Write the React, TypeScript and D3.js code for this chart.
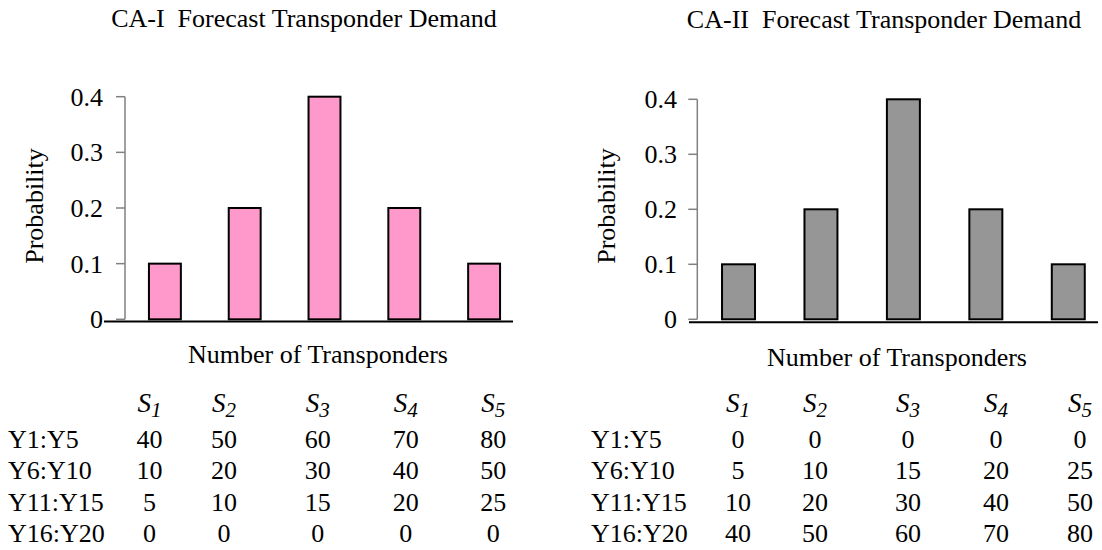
import React from 'react';
import * as d3 from 'd3';

// ---------- data ----------
const categories = ['S1', 'S2', 'S3', 'S4', 'S5'];
const subscripts = ['1', '2', '3', '4', '5'];
const probCAI = [0.1, 0.2, 0.4, 0.2, 0.1];
const probCAII = [0.1, 0.2, 0.4, 0.2, 0.1];
const yTicks = [0, 0.1, 0.2, 0.3, 0.4];
const yTickLabels = ['0', '0.1', '0.2', '0.3', '0.4'];
const periods = ['Y1:Y5', 'Y6:Y10', 'Y11:Y15', 'Y16:Y20'];
const demandCAI = [
  [40, 50, 60, 70, 80],
  [10, 20, 30, 40, 50],
  [5, 10, 15, 20, 25],
  [0, 0, 0, 0, 0],
];
const demandCAII = [
  [0, 0, 0, 0, 0],
  [5, 10, 15, 20, 25],
  [10, 20, 30, 40, 50],
  [40, 50, 60, 70, 80],
];
const titleCAI = 'CA-I  Forecast Transponder Demand';
const titleCAII = 'CA-II  Forecast Transponder Demand';
const yLabel = 'Probability';
const xLabel = 'Number of Transponders';

// ---------- layout ----------
const FONT = "'Liberation Serif', 'Times New Roman', 'DejaVu Serif', serif";

const layoutI = {
  titleX: 304, titleY: 27,
  axisX: 125, bandEnd: 524, y0: 319.3, yTop: 96.7,
  labelRight: 103, xAxisStart: 104, xAxisEnd: 513, xAxisY: 321.5,
  yLabelX: 43, yLabelY: 206,
  xLabelX: 318, xLabelY: 363,
  rowLabelX: 8, cols: [149.5, 224, 317.7, 405.8, 493.3],
  fontTick: 26,
};
const layoutII = {
  titleX: 884, titleY: 27.5,
  axisX: 697.3, bandEnd: 1109.5, y0: 319.3, yTop: 99.3,
  labelRight: 677, xAxisStart: 689, xAxisEnd: 1098, xAxisY: 322.3,
  yLabelX: 615, yLabelY: 206,
  xLabelX: 897, xLabelY: 366,
  rowLabelX: 591, cols: [738, 815, 908, 996, 1080],
  fontTick: 26,
};
const headerY = 412;
const rowY0 = 448;
const rowStep = 31.3;

type Layout = typeof layoutI;

function Panel({ L, title, probs, fill, demand }: { L: Layout; title: string; probs: number[]; fill: string; demand: number[][] }) {
  const x = d3.scaleBand<string>().domain(categories).range([L.axisX, L.bandEnd]).paddingInner(0.6).paddingOuter(0.3);
  const y = d3.scaleLinear().domain([0, 0.4]).range([L.y0, L.yTop]);
  return (
    <g style={{ fontFamily: FONT }} fill="#000">
      <text x={L.titleX} y={L.titleY} textAnchor="middle" fontSize={26} xmlSpace="preserve" style={{ whiteSpace: 'pre' }}>{title}</text>

      {/* bars */}
      {categories.map((c, i) => (
        <rect key={c} x={x(c)} y={y(probs[i])} width={x.bandwidth()} height={y(0) - y(probs[i])}
          fill={fill} stroke="#000" strokeWidth={2} />
      ))}

      {/* y axis */}
      <line x1={L.axisX} x2={L.axisX} y1={y(0.4)} y2={y(0)} stroke="#808080" strokeWidth={1.5} />
      {yTicks.map((t, i) => (
        <g key={t}>
          <line x1={L.axisX - 9} x2={L.axisX} y1={y(t)} y2={y(t)} stroke="#808080" strokeWidth={1.5} />
          <text x={L.labelRight} y={y(t)} dy="0.35em" textAnchor="end" fontSize={L.fontTick}>{yTickLabels[i]}</text>
        </g>
      ))}

      {/* x axis */}
      <line x1={L.xAxisStart} x2={L.xAxisEnd} y1={L.xAxisY} y2={L.xAxisY} stroke="#000" strokeWidth={2} />

      <text transform={`translate(${L.yLabelX},${L.yLabelY}) rotate(-90)`} textAnchor="middle" fontSize={26}>{yLabel}</text>
      <text x={L.xLabelX} y={L.xLabelY} textAnchor="middle" fontSize={26}>{xLabel}</text>

      {/* table header */}
      {categories.map((c, j) => (
        <text key={c} x={L.cols[j]} y={headerY} textAnchor="middle" fontSize={27} fontStyle="italic">
          S<tspan fontSize={21} dy={5}>{subscripts[j]}</tspan>
        </text>
      ))}
      {/* table rows */}
      {periods.map((p, i) => (
        <g key={p}>
          <text x={L.rowLabelX} y={rowY0 + i * rowStep} fontSize={26}>{p}</text>
          {demand[i].map((v, j) => (
            <text key={j} x={L.cols[j]} y={rowY0 + i * rowStep} textAnchor="middle" fontSize={26}>{v}</text>
          ))}
        </g>
      ))}
    </g>
  );
}

export default function App() {
  return (
    <svg width={1102} height={550} viewBox="0 0 1102 550"
      style={{ position: 'absolute', left: 0, top: 0, display: 'block', background: '#fff', fontFamily: FONT }}>
      <rect x={0} y={0} width={1102} height={550} fill="#fff" />
      <Panel L={layoutI} title={titleCAI} probs={probCAI} fill="#FF99CC" demand={demandCAI} />
      <Panel L={layoutII} title={titleCAII} probs={probCAII} fill="#969696" demand={demandCAII} />
    </svg>
  );
}
